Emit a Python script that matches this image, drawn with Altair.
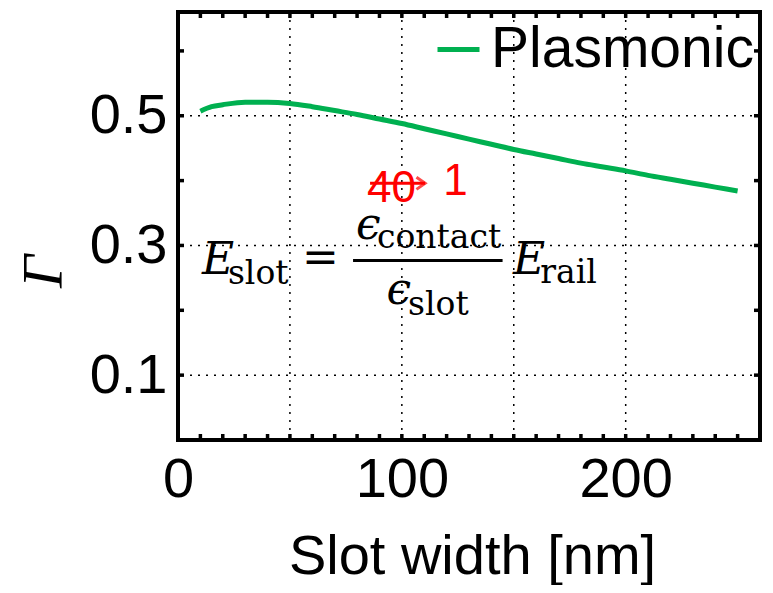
import altair as alt
import pandas as pd

# ---- data ----
slot_width = [10, 15, 20, 30, 40, 50, 60, 70, 80, 90, 100, 110, 120, 130, 140,
              150, 160, 170, 180, 190, 200, 210, 220, 230, 240, 250]
gamma = [0.507, 0.514, 0.517, 0.521, 0.521, 0.519, 0.514, 0.508, 0.502, 0.495,
         0.488, 0.480, 0.472, 0.464, 0.456, 0.448, 0.441, 0.434, 0.427, 0.421,
         0.415, 0.408, 0.402, 0.396, 0.390, 0.384]
series_name = "Plasmonic"

x_grid = [50, 100, 150, 200]
y_grid = [0.1, 0.3, 0.5]
x_labels = [0, 100, 200]
y_labels = [0.1, 0.3, 0.5]
x_minor = list(range(0, 261, 10))
y_minor = [0.1, 0.2, 0.3, 0.4, 0.5, 0.6]

# formula annotation pieces: text, x, y, font size
formula_italic_text = ["E", "E", "ϵ", "ϵ"]
formula_italic_x = [10.7, 149.7, 79.5, 93.2]
formula_italic_y = [0.256, 0.256, 0.3107, 0.2097]
formula_italic_fs = [44, 44, 44, 44]

formula_up_text = ["slot", "=", "contact", "slot", "rail"]
formula_up_x = [22.3, 55.4, 88.9, 102.8, 161.8]
formula_up_y = [0.2406, 0.259, 0.296, 0.1928, 0.2421]
formula_up_fs = [33, 44, 33, 33, 33]

frac_bar = {"x": [78.2], "x2": [145.0], "y": [0.2768]}

red_text = ["40", "1"]
red_x = [84.4, 118.5]
red_y = [0.3675, 0.3778]
arrow_shaft = {"x": [85.8], "x2": [110.4], "y": [0.3958]}

W, H = 582, 428
XDOM = [0, 260]
YDOM = [0, 0.66]

xs = alt.Scale(domain=XDOM, nice=False, zero=False)
ys = alt.Scale(domain=YDOM, nice=False, zero=False)

X_AXIS = alt.Axis(values=x_labels, title="Slot width [nm]", titleX=294, titleY=116,
                  titleBaseline="middle", titleAlign="center", labelPadding=12,
                  labelBaseline="top", labelFlush=False, format="d")
Y_AXIS = alt.Axis(values=y_labels, title="Γ", titleFont="Liberation Serif",
                  titleFontStyle="italic", titleFontSize=58, titleFontWeight="normal",
                  titleAngle=270, titleX=-134, titleY=259, titleAlign="center",
                  titleBaseline="middle", labelPadding=11, labelFlush=False, format=".1f")


def X(f):
    return alt.X(f, scale=xs, axis=X_AXIS, title="Slot width [nm]")


def Y(f):
    return alt.Y(f, scale=ys, axis=Y_AXIS, title="Γ")


df_line = pd.DataFrame({"w": slot_width, "g": gamma, "s": [series_name] * len(gamma)})

grid_style = dict(color="black", strokeWidth=1.5, strokeDash=[2, 6])

gx = alt.Chart(pd.DataFrame({"x": x_grid})).mark_rule(**grid_style).encode(x=X("x:Q"))
gy = alt.Chart(pd.DataFrame({"y": y_grid})).mark_rule(**grid_style).encode(y=Y("y:Q"))

tick_style = dict(color="black", strokeWidth=3.5)
tb = alt.Chart(pd.DataFrame({"x": x_minor})).mark_rule(**tick_style).encode(
    x=X("x:Q"), y=alt.value(H), y2=alt.value(H - 6))
tt = alt.Chart(pd.DataFrame({"x": x_minor})).mark_rule(**tick_style).encode(
    x=X("x:Q"), y=alt.value(0), y2=alt.value(6))
tl = alt.Chart(pd.DataFrame({"y": y_minor})).mark_rule(**tick_style).encode(
    y=Y("y:Q"), x=alt.value(0), x2=alt.value(6))
tr = alt.Chart(pd.DataFrame({"y": y_minor})).mark_rule(**tick_style).encode(
    y=Y("y:Q"), x=alt.value(W), x2=alt.value(W - 6))

line = alt.Chart(df_line).mark_line(strokeWidth=5, interpolate="monotone").encode(
    x=X("w:Q"),
    y=Y("g:Q"),
    color=alt.Color("s:N", scale=alt.Scale(domain=[series_name], range=["#00B050"]),
                    legend=alt.Legend(title=None, orient="none", legendX=252, legendY=9,
                                      symbolType="stroke", symbolSize=1764,
                                      symbolStrokeWidth=5, labelFontSize=57,
                                      labelFont="Liberation Sans", labelOffset=4,
                                      labelLimit=0, padding=0, labelColor="black")),
)

fi = alt.Chart(pd.DataFrame({"t": formula_italic_text, "x": formula_italic_x,
                             "y": formula_italic_y, "fs": formula_italic_fs})).mark_text(
    font="DejaVu Serif", fontStyle="italic", align="left", baseline="alphabetic", color="black"
).encode(x=X("x:Q"), y=Y("y:Q"), text="t:N", size=alt.Size("fs:Q", scale=None))

fu = alt.Chart(pd.DataFrame({"t": formula_up_text, "x": formula_up_x,
                             "y": formula_up_y, "fs": formula_up_fs})).mark_text(
    font="DejaVu Serif", align="left", baseline="alphabetic", color="black"
).encode(x=X("x:Q"), y=Y("y:Q"), text="t:N", size=alt.Size("fs:Q", scale=None))

fb = alt.Chart(pd.DataFrame(frac_bar)).mark_rule(color="black", strokeWidth=2.8).encode(
    x=X("x:Q"), x2="x2:Q", y=Y("y:Q"))

rt = alt.Chart(pd.DataFrame({"t": red_text, "x": red_x, "y": red_y})).mark_text(
    font="Liberation Sans", fontSize=44, align="left", baseline="alphabetic", color="#FF0000"
).encode(x=X("x:Q"), y=Y("y:Q"), text="t:N")

ra = alt.Chart(pd.DataFrame(arrow_shaft)).mark_rule(color="#FF0000", strokeWidth=3).encode(
    x=X("x:Q"), x2="x2:Q", y=Y("y:Q"))
rh = alt.Chart(pd.DataFrame({"x": [arrow_shaft["x2"][0]], "y": arrow_shaft["y"]})).mark_point(
    shape="M-1,-0.7L0,0L-1,0.7", filled=False, stroke="#FF0000", strokeWidth=3, size=300
).encode(x=X("x:Q"), y=Y("y:Q"))

chart = alt.layer(gx, gy, tb, tt, tl, tr, fb, fi, fu, ra, rh, rt, line).properties(
    width=W, height=H,
    autosize=alt.AutoSizeParams(type="none"),
    padding={"left": 170, "top": 4, "right": 5, "bottom": 145},
).configure_view(stroke="black", strokeWidth=4).configure_axis(
    domain=False, ticks=False, grid=False, labelFont="Liberation Sans", labelFontSize=56,
    labelColor="black", titleFont="Liberation Sans", titleFontSize=56,
    titleFontWeight="normal", titleColor="black"
)

chart.save("out.html", embed_options={"renderer": "svg", "actions": False})
